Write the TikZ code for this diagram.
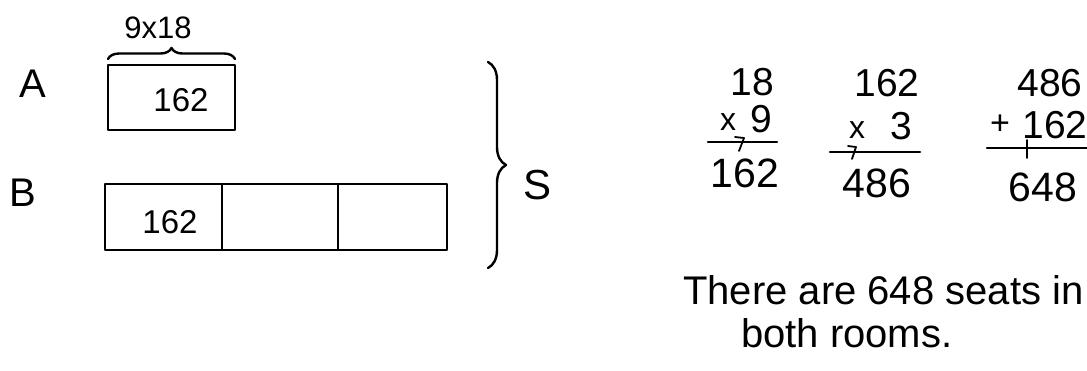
\documentclass[tikz,border=0pt]{standalone}
\usepackage{fontspec}
\setmainfont{Liberation Sans}
\usetikzlibrary{decorations.pathreplacing}
\begin{document}
\begin{tikzpicture}[x=1pt,y=-1pt, line width=2.4pt, line join=round, line cap=round,
  every node/.style={inner sep=0pt},
  hand/.style={font=\fontsize{#1}{#1}\selectfont},
  cell/.style={draw, line width=2.4pt, outer sep=0pt, minimum height=66pt},
  rule/.style={line width=2.2pt},
  carry/.style={line width=1.8pt},
  bracedec/.style={decorate, decoration={brace, amplitude=#1}}]
\useasboundingbox[fill=white] (0,0) rectangle (1087,370);

% --- tape diagram ---
\node[hand=31] (lab918) at (158,28) {9x18};
\coordinate (brL) at (108,59);
\coordinate (brR) at (235,59);
\draw[bracedec=11] (brL) -- (brR);

\node[hand=40] (labA) at (33,84) {A};
\node[cell, minimum width=127pt, minimum height=65pt] (boxA) at (171.5,97.5) {};
\node[hand=33] (a162) at (181,100) {162};

\node[hand=40] (labB) at (23,193) {B};
\node[cell, minimum width=117pt] (b1) at (163.5,217) {};
\node[cell, minimum width=116pt, anchor=west] (b2) at (b1.east) {};
\node[cell, minimum width=109pt, anchor=west] (b3) at (b2.east) {};
\node[hand=33] (b162) at (170,222) {162};

\coordinate (bgT) at (488,62);
\coordinate (bgB) at (488,268);
\draw[bracedec=18] (bgT) -- (bgB);
\node[hand=42] (labS) at (538,185) {S};

% --- calculation 1 ---
\node[hand=39] (c1a) at (752,82) {18};
\node[hand=32] (c1x) at (728,122) {x};
\node[hand=39] (c1b) at (761,119) {9};
\draw[rule] (708,142) -- (777,142);
\draw[carry] (735,137) -- (744,138) -- (739,151);
\node[hand=41] (c1r) at (745,173) {162};

% --- calculation 2 ---
\node[hand=39] (c2a) at (887,83) {162};
\node[hand=32] (c2x) at (857,130) {x};
\node[hand=39] (c2b) at (901,126) {3};
\draw[rule] (830,152) -- (920,152);
\draw[carry] (848,146) -- (856,147) -- (852,159);
\node[hand=41] (c2r) at (877,183) {486};

% --- calculation 3 ---
\node[hand=39] (c3a) at (1050,83) {486};
\node[hand=34] (c3p) at (1000,125) {+};
\node[hand=39] (c3b) at (1055,125) {162};
\draw[rule] (987,148) -- (1087,148);
\draw[carry] (1027,140) -- (1027,158);
\node[hand=41] (c3r) at (1043,187) {648};

% --- answer ---
\node[hand=40, anchor=west] (t1) at (682,290) {There are 648 seats in};
\node[hand=40, anchor=west] (t2) at (740,333) {both rooms.};
\end{tikzpicture}
\end{document}
